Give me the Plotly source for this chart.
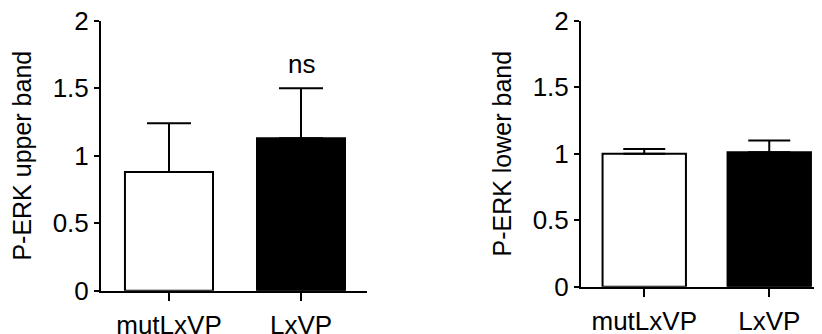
import plotly.graph_objects as go

categories = ["mutLxVP", "LxVP"]
upper_means = [0.88, 1.13]
upper_sem = [0.36, 0.37]
lower_means = [1.0, 1.01]
lower_sem = [0.035, 0.09]
bar_colors = ["white", "black"]
y_ticks = [0, 0.5, 1, 1.5, 2]
y_ticktext = ["0", "0.5", "1", "1.5", "2"]
sig_label = "ns"

FONT = "Liberation Sans, Arial, Helvetica, sans-serif"
# the page places the figure 8px in from the window's corner
OFF = 8
W, H = 822 - OFF, 334 - OFF


def px_x(a, b):
    return [(a - OFF) / W, min(1.0, (b - OFF) / W)]


def px_y(top, bottom):
    return [1 - (bottom - OFF) / H, 1 - (top - OFF) / H]


fig = go.Figure()

fig.add_trace(go.Bar(
    x=[0, 1], y=upper_means, width=0.667,
    marker=dict(color=bar_colors, line=dict(color="black", width=2)),
    error_y=dict(type="data", array=upper_sem, arrayminus=[0, 0], symmetric=False,
                 color="black", thickness=2, width=22),
    xaxis="x", yaxis="y", showlegend=False,
))
fig.add_trace(go.Bar(
    x=[0, 1], y=lower_means, width=0.667,
    marker=dict(color=bar_colors, line=dict(color="black", width=2)),
    error_y=dict(type="data", array=lower_sem, arrayminus=[0, 0], symmetric=False,
                 color="black", thickness=2, width=21),
    xaxis="x2", yaxis="y2", showlegend=False,
))

FS = 26
xcommon = dict(
    tickmode="array", tickvals=[0, 1], ticktext=categories,
    showline=True, linecolor="black", linewidth=2,
    ticks="outside", ticklen=8, tickwidth=2, tickcolor="black",
    showgrid=False, zeroline=False, automargin=False, ticklabelstandoff=2,
    ticklabeloverflow="allow",
    tickfont=dict(family=FONT, size=FS, color="black"),
)
ycommon = dict(
    range=[0, 2], tickmode="array", tickvals=y_ticks, ticktext=y_ticktext,
    showline=True, linecolor="black", linewidth=2,
    ticks="outside", ticklen=5, tickwidth=2, tickcolor="black",
    showgrid=False, zeroline=False, automargin=False,
    ticklabeloverflow="allow",
    tickfont=dict(family=FONT, size=FS, color="black"),
)

fig.update_layout(
    template="none",
    width=W, height=H,
    margin=dict(l=0, r=0, t=0, b=0, pad=0),
    paper_bgcolor="white", plot_bgcolor="white",
    xaxis=dict(domain=px_x(101, 367), range=[-0.515, 1.5], anchor="y", **xcommon),
    yaxis=dict(domain=px_y(20.7, 290.7), anchor="x",
               title=dict(text="P-ERK upper band", standoff=14,
                          font=dict(family=FONT, size=25, color="black")),
               **ycommon),
    xaxis2=dict(domain=px_x(581, 822), range=[-0.506, 1.422], anchor="y2", **xcommon),
    yaxis2=dict(domain=px_y(20.7, 286.7), anchor="x2",
                title=dict(text="P-ERK lower band", standoff=14,
                           font=dict(family=FONT, size=25, color="black")),
                **ycommon),
    annotations=[dict(
        x=1, y=1.68, xref="x", yref="y", text=sig_label, showarrow=False,
        xanchor="center", yanchor="middle",
        font=dict(family=FONT, size=FS, color="black"),
    )],
)

fig.write_html("out.html")
